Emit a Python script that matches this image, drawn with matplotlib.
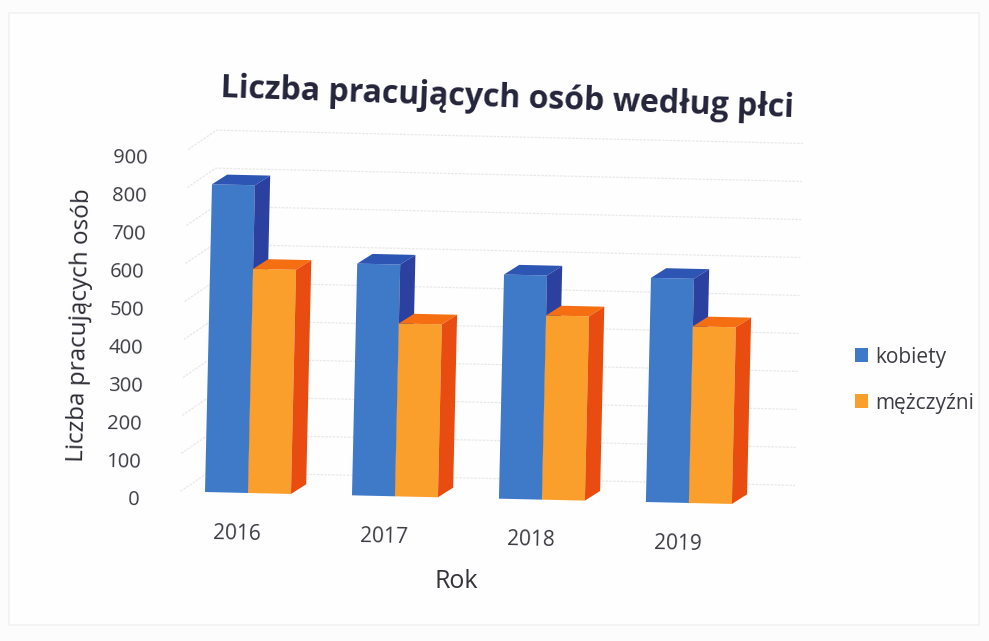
import matplotlib
matplotlib.use("Agg")
import matplotlib.pyplot as plt
from matplotlib.patches import Polygon, Patch, Rectangle
from matplotlib.transforms import Affine2D

years = ["2016", "2017", "2018", "2019"]
kobiety = [810, 610, 590, 590]
mezczyzni = [590, 455, 485, 465]
y_ticks = [0, 100, 200, 300, 400, 500, 600, 700, 800, 900]
title = "Liczba pracujących osób według płci"
y_label = "Liczba pracujących osób"
x_label = "Rok"
series_names = ["kobiety", "mężczyźni"]

W, H = 989, 641
TILT = -1.3
PX_X = 1 / 147          # categories per pixel
PX_Y = 100 / 38         # value units per pixel
BAR = 43 * PX_X
DX, DY = 15 * PX_X, 10 * PX_Y
BLUE = ("#3f7ac8", "#2d55b4", "#2b409f")
ORANGE = ("#fb9f2c", "#f56f12", "#e84c10")
TXT = "#3c3c44"
FONT = "Open Sans"

plt.rcParams["font.family"] = FONT
fig = plt.figure(figsize=(W / 100, H / 100), dpi=100, facecolor="#fdfcfc")
left, right, base, top = 174.5, 762.5, 492, 150
ax = fig.add_axes([left / W, (H - base) / H, (right - left) / W, (base - top) / H])
ax.set_xlim(-0.5, 3.5)
ax.set_ylim(0, 900)
ax.set_axis_off()

fig.add_artist(Rectangle((9 / W, (H - 625) / H), 970 / W, 612 / H, transform=fig.transFigure,
                         facecolor="#fefefe", edgecolor="#f4f1f1", lw=1.2, zorder=-5))

tr = ax.transData + Affine2D().rotate_deg_around(205, H - 492, TILT)

# back-wall gridlines with their floor stubs
gx0, gx1 = -0.46, 3.72
bx, by = 28 * PX_X, 20 * PX_Y
for v in y_ticks:
    ax.plot([gx0, gx0 + bx, gx1], [v, v + by, v + by], transform=tr, color="#ebe7e7",
            lw=0.9, ls=(0, (2, 1)), clip_on=False, zorder=1)


def bar3d(i, x0, v, cols):
    x1 = x0 + BAR
    ax.bar(x0, v, width=BAR, align="edge", color=cols[0], transform=tr, clip_on=False, zorder=3 + i)
    ax.add_patch(Polygon([(x0, v), (x0 + DX, v + DY), (x1 + DX, v + DY), (x1, v)], closed=True,
                         facecolor=cols[1], edgecolor="none", transform=tr, clip_on=False, zorder=3 + i))
    ax.add_patch(Polygon([(x1, 0), (x1 + DX, DY), (x1 + DX, v + DY), (x1, v)], closed=True,
                         facecolor=cols[2], edgecolor="none", transform=tr, clip_on=False, zorder=3 + i))


for c in range(len(years)):
    bar3d(0, c - BAR, kobiety[c], BLUE)
    bar3d(1, c, mezczyzni[c], ORANGE)

# tick labels
for v in y_ticks:
    ax.text(-0.735, v - 26, str(v), transform=tr, rotation=TILT, rotation_mode="anchor",
            ha="right", va="center", fontsize=14.5, color=TXT)
for c, y in enumerate(years):
    ax.text(c - 0.07, -108, y, transform=tr, rotation=TILT, rotation_mode="anchor",
            ha="center", va="center", fontsize=15, color=TXT)

fig.text(456 / W, 1 - 581 / H, x_label, ha="center", va="center", fontsize=18, color="#33333a")
fig.text(80 / W, 1 - 325 / H, y_label, ha="center", va="center", rotation=90 + TILT,
         rotation_mode="anchor", fontsize=17.5, color="#2c2c34")
fig.text(507 / W, 1 - 99 / H, title, ha="center", va="center", rotation=-2.0, rotation_mode="anchor",
         fontsize=23, fontweight="bold", color="#23233a")

handles = [Patch(facecolor=BLUE[0]), Patch(facecolor=ORANGE[0])]
fig.legend(handles, series_names, loc="center left", bbox_to_anchor=(855 / W, 1 - 380 / H),
           frameon=False, fontsize=15, handlelength=0.62, handleheight=0.62, handletextpad=0.33,
           labelspacing=1.2, borderpad=0, borderaxespad=0, labelcolor=TXT)

fig.savefig("out.png", dpi=100, facecolor=fig.get_facecolor())
